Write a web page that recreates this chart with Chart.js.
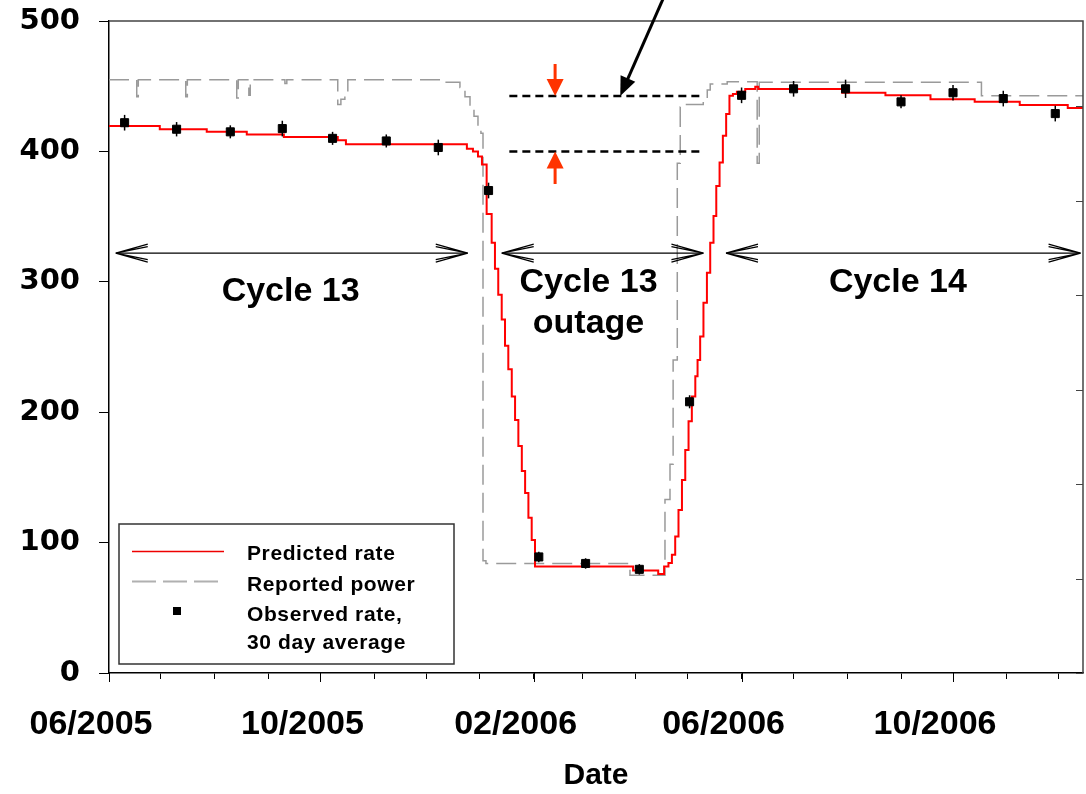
<!DOCTYPE html>
<html>
<head>
  <title>Predicted rate vs reported power</title>
  <style>
    body { margin: 0; background: #fff; }
    #chart { display: block; }
  </style>
  <script src="https://cdn.jsdelivr.net/npm/chart.js"></script>
</head>
<body>
  <canvas id="chart" width="1086" height="794"></canvas>
  <script>
    // x is counted in days from 06/01/2005
    const START = Date.UTC(2005, 5, 1);
    const dayOf = s => (Date.parse(s + 'T00:00:00Z') - START) / 864e5;

    const tickMonths = ['2005-06-01', '2005-07-01', '2005-08-01', '2005-09-01', '2005-10-01',
      '2005-11-01', '2005-12-01', '2006-01-01', '2006-02-01', '2006-03-01', '2006-04-01',
      '2006-05-01', '2006-06-01', '2006-07-01', '2006-08-01', '2006-09-01', '2006-10-01',
      '2006-11-01', '2006-12-01'];
    const tickLabels = ['06/2005', '10/2005', '02/2006', '06/2006', '10/2006'];
    const xMaxDay = 562;

    // predicted rate, step changes (day, value)
    const predDays = [0, 29.3, 56.4, 79.5, 100.9, 132, 136.7, 206.5, 210, 212.9, 215.2,
      217.9, 220.8, 222.7, 224.6, 226.6, 228.5, 230.4, 232.4, 234.3, 236.2, 238.2, 240.1, 242, 243.9, 245.8,
      302.4, 316.9,
      320.3, 322.8, 324.8, 326.7, 328.6, 330.6, 332.5, 334.4, 336.3, 338.3, 339.6, 341.1, 343, 345,
      346.9, 348.8, 350.4, 352.3, 354.2, 356.1, 358, 360, 362.3, 367.1,
      372.9, 374.6, 423, 448, 474, 499.5, 525.5, 553.2, 562];
    const predRate = [419.5, 417, 415, 413, 411, 408.5, 405.5, 402, 400, 396, 390,
      352, 330, 310, 290, 271, 251, 233, 212, 194, 174, 155, 138, 119, 102, 81.6,
      78.6, 76,
      81.6, 84.3, 90.6, 104.7, 125, 148, 171, 193, 212, 227.5, 240, 258, 284, 307,
      330, 350.5, 373.5, 391.5, 412, 428.6, 442.6, 444, 445.8, 447.8,
      449.6, 447.8, 445, 443, 440, 438, 435.6, 433.2, 433.2];

    // reported power, step changes (day, value)
    const powerDays = [0, 16, 16.9, 44.3, 45.2, 73.7, 74.6, 80.7, 81.5, 101.5, 102.6,
      132, 133.8, 136.1, 137.8, 191, 202.5, 205.4, 208.3, 210.6, 212.9, 214.6, 215.8, 217.5,
      300.6, 320.8, 323.7, 325.5, 327.9, 329.6, 331.9, 342.9, 345.2, 346.9, 356.7,
      374, 375.2, 503.4, 562];
    const powerLevel = [455, 442, 455, 442, 455, 441, 455, 443, 455, 452, 455,
      436, 440, 444, 455, 453, 449, 442, 434, 427, 419, 414, 86, 84,
      75, 133, 160, 240, 391, 434, 436, 440, 447, 451.6, 453.4,
      391, 453, 442.6, 442.6];

    // observed rate, 30 day average
    const obsDates = ['2005-06-10', '2005-07-10', '2005-08-10', '2005-09-09', '2005-10-08',
      '2005-11-08', '2005-12-08', '2006-01-06', '2006-02-04', '2006-03-03', '2006-04-03',
      '2006-05-02', '2006-06-01', '2006-07-01', '2006-07-31', '2006-09-01', '2006-10-01',
      '2006-10-30', '2006-11-29'];
    const obsRate = [422, 417, 415, 417.5, 410, 408, 403, 370, 89, 84, 79.5,
      208, 443, 448, 448, 438, 445, 440.5, 429];
    const obsErr = [6, 5.5, 5, 6, 5, 5, 6, 6, 4, 4, 4, 5, 6, 6, 7, 5, 6, 6, 6];

    // unlabeled right-hand axis
    const rightTicks = [0, 1, 2, 3, 4, 5, 6];

    const FONT = "'Liberation Sans', Arial, sans-serif";

    function fmtMonth(v) {
      const d = new Date(START + v * 864e5);
      return String(d.getUTCMonth() + 1).padStart(2, '0') + '/' + d.getUTCFullYear();
    }

    function head(ctx, tx, ty, fx, fy, len, half) {
      const a = Math.atan2(ty - fy, tx - fx);
      ctx.beginPath();
      ctx.moveTo(tx, ty);
      ctx.lineTo(tx - len * Math.cos(a) + half * Math.sin(a), ty - len * Math.sin(a) - half * Math.cos(a));
      ctx.lineTo(tx - len * Math.cos(a) - half * Math.sin(a), ty - len * Math.sin(a) + half * Math.cos(a));
      ctx.closePath();
      ctx.fill();
    }

    function openEnd(ctx, tx, ty, dir) {
      // double-line open barbs, dir = +1 opens to the right
      ctx.beginPath();
      [-9, -6.5, 6.5, 9].forEach(o => {
        ctx.moveTo(tx, ty);
        ctx.lineTo(tx + dir * 32, ty + o);
      });
      ctx.stroke();
    }

    const noPad = s => { s.paddingTop = 0; s.paddingBottom = 0; s.paddingLeft = 0; s.paddingRight = 0; };

    const extras = {
      id: 'extras',
      afterDatasetsDraw(chart) {
        const {ctx, scales: {y}} = chart;
        const meta = chart.getDatasetMeta(0);
        ctx.save();
        ctx.strokeStyle = '#000';
        ctx.lineWidth = 1.5;
        meta.data.forEach((p, i) => {
          ctx.beginPath();
          ctx.moveTo(p.x, y.getPixelForValue(obsRate[i] + obsErr[i]));
          ctx.lineTo(p.x, y.getPixelForValue(obsRate[i] - obsErr[i]));
          ctx.stroke();
        });
        ctx.restore();
      },
      afterDraw(chart) {
        const {ctx, chartArea: a, scales: {x, y, y2}} = chart;
        const px = d => x.getPixelForValue(d);
        const py = v => y.getPixelForValue(v);
        ctx.save();

        // frame top/right + inward ticks on right axis
        ctx.strokeStyle = '#444';
        ctx.lineWidth = 1.5;
        ctx.beginPath();
        ctx.moveTo(a.left, a.top);
        ctx.lineTo(a.right, a.top);
        ctx.lineTo(a.right, a.bottom);
        ctx.stroke();
        ctx.lineWidth = 1;
        ctx.beginPath();
        rightTicks.forEach(t => {
          const yy = Math.round(y2.getPixelForValue(t)) + 0.5;
          ctx.moveTo(a.right - 7, yy);
          ctx.lineTo(a.right, yy);
        });
        ctx.stroke();

        // longer ticks at labelled months
        ctx.strokeStyle = '#000';
        ctx.beginPath();
        x.ticks.forEach(t => {
          if (tickLabels.includes(fmtMonth(t.value))) {
            const xx = Math.round(px(t.value)) + 0.5;
            ctx.moveTo(xx, a.bottom);
            ctx.lineTo(xx, a.bottom + 9);
          }
        });
        ctx.stroke();

        // cycle spans
        ctx.lineWidth = 1.3;
        const spanY = py(322);
        [[3.9, 207], [226.6, 343], [356, 560.6]].forEach(([d1, d2]) => {
          const x1 = px(d1), x2 = px(d2);
          ctx.beginPath();
          ctx.moveTo(x1, spanY);
          ctx.lineTo(x2, spanY);
          ctx.stroke();
          openEnd(ctx, x1, spanY, 1);
          openEnd(ctx, x2, spanY, -1);
        });

        ctx.fillStyle = '#000';
        ctx.font = 'bold 34px ' + FONT;
        ctx.textAlign = 'center';
        ctx.textBaseline = 'alphabetic';
        ctx.fillText('Cycle 13', px(104.8), py(285.3));
        ctx.fillText('Cycle 13', px(276.7), py(292.2));
        ctx.fillText('outage', px(276.7), py(260.7));
        ctx.fillText('Cycle 14', px(455.2), py(292.2));

        // dashed level lines
        ctx.lineWidth = 2.5;
        ctx.setLineDash([8, 5]);
        [442.5, 400].forEach(v => {
          ctx.beginPath();
          ctx.moveTo(px(231), py(v));
          ctx.lineTo(px(340.7), py(v));
          ctx.stroke();
        });
        ctx.setLineDash([]);

        // red arrows pointing at the two levels
        ctx.strokeStyle = '#ff3300';
        ctx.fillStyle = '#ff3300';
        ctx.lineWidth = 3;
        const ax = px(257.4);
        ctx.beginPath();
        ctx.moveTo(ax, py(467));
        ctx.lineTo(ax, py(455));
        ctx.moveTo(ax, py(375));
        ctx.lineTo(ax, py(388));
        ctx.stroke();
        head(ctx, ax, py(442.5), ax, py(467), 17, 8.5);
        head(ctx, ax, py(400), ax, py(375), 17, 8.5);

        // black pointer arrow from above
        ctx.strokeStyle = '#000';
        ctx.fillStyle = '#000';
        ctx.lineWidth = 3;
        const bx0 = px(319.7), by0 = py(517), bx1 = px(295), by1 = py(442.5);
        ctx.beginPath();
        ctx.moveTo(bx0, by0);
        ctx.lineTo(bx0 + (bx1 - bx0) * 0.85, by0 + (by1 - by0) * 0.85);
        ctx.stroke();
        head(ctx, bx1, by1, bx0, by0, 19, 8);

        // legend
        ctx.fillStyle = '#fff';
        ctx.fillRect(119, 524, 335, 140);
        ctx.strokeStyle = '#333';
        ctx.lineWidth = 1.5;
        ctx.strokeRect(119, 524, 335, 140);
        ctx.strokeStyle = '#ee0000';
        ctx.lineWidth = 1.6;
        ctx.beginPath();
        ctx.moveTo(132, 551.5);
        ctx.lineTo(224, 551.5);
        ctx.stroke();
        ctx.strokeStyle = '#b0b0b0';
        ctx.lineWidth = 2;
        ctx.setLineDash([24, 7]);
        ctx.beginPath();
        ctx.moveTo(132, 581.5);
        ctx.lineTo(219, 581.5);
        ctx.stroke();
        ctx.setLineDash([]);
        ctx.fillStyle = '#000';
        ctx.fillRect(173, 607, 8, 8);
        ctx.font = 'bold 21px ' + FONT;
        ctx.letterSpacing = '0.6px';
        ctx.textAlign = 'left';
        ctx.fillText('Predicted rate', 247, 560);
        ctx.fillText('Reported power', 247, 590.5);
        ctx.fillText('Observed rate,', 247, 620.5);
        ctx.fillText('30 day average', 247, 649);
        ctx.restore();
      }
    };

    const toPts = (xs, ys) => xs.map((d, i) => ({x: d, y: ys[i]}));

    new Chart(document.getElementById('chart'), {
      type: 'line',
      data: {
        datasets: [
          {
            label: 'Observed rate, 30 day average',
            data: toPts(obsDates.map(dayOf), obsRate),
            showLine: false,
            pointStyle: 'rect',
            pointRadius: 5.7,
            backgroundColor: '#000',
            borderColor: '#000',
            order: 0
          },
          {
            label: 'Predicted rate',
            data: toPts(predDays, predRate),
            stepped: 'before',
            borderColor: '#ff0000',
            borderWidth: 2,
            pointRadius: 0,
            order: 1
          },
          {
            label: 'Reported power',
            data: toPts(powerDays, powerLevel),
            stepped: 'before',
            borderColor: '#9a9a9a',
            borderWidth: 1.5,
            borderDash: [20, 8],
            pointRadius: 0,
            order: 2
          }
        ]
      },
      options: {
        responsive: false,
        devicePixelRatio: 1,
        animation: false,
        layout: {autoPadding: false, padding: {top: 21, left: 0, right: 3, bottom: 0}},
        plugins: {legend: {display: false}, tooltip: {enabled: false}},
        scales: {
          x: {
            type: 'linear',
            min: 0,
            max: xMaxDay,
            afterBuildTicks: s => { s.ticks = tickMonths.map(m => ({value: dayOf(m)})); },
            afterFit: s => { s.height = 121; noPad(s); },
            grid: {drawOnChartArea: false, tickLength: 6, color: '#000'},
            border: {color: '#000', width: 1.5},
            ticks: {
              autoSkip: false, maxRotation: 0, labelOffset: -18, padding: 25,
              color: '#000', font: {family: FONT, size: 34, weight: 'bold'},
              callback: v => { const s = fmtMonth(v); return tickLabels.includes(s) ? s : ''; }
            },
            title: {
              display: true, text: 'Date', color: '#000',
              font: {family: FONT, size: 30, weight: 'bold'},
              padding: {top: 0, bottom: 0}
            }
          },
          y: {
            min: 0,
            max: 500,
            afterFit: s => { s.width = 109; noPad(s); },
            grid: {drawOnChartArea: false, tickLength: 10, color: '#000'},
            border: {color: '#000', width: 1.5},
            ticks: {stepSize: 100, padding: 19, color: '#000', font: {family: "'DejaVu Sans', sans-serif", size: 29, weight: 'bold'}}
          },
          y2: {
            position: 'right',
            min: 0,
            max: 6.9,
            display: false,
            ticks: {stepSize: 1}
          }
        }
      },
      plugins: [extras]
    });
  </script>
</body>
</html>
